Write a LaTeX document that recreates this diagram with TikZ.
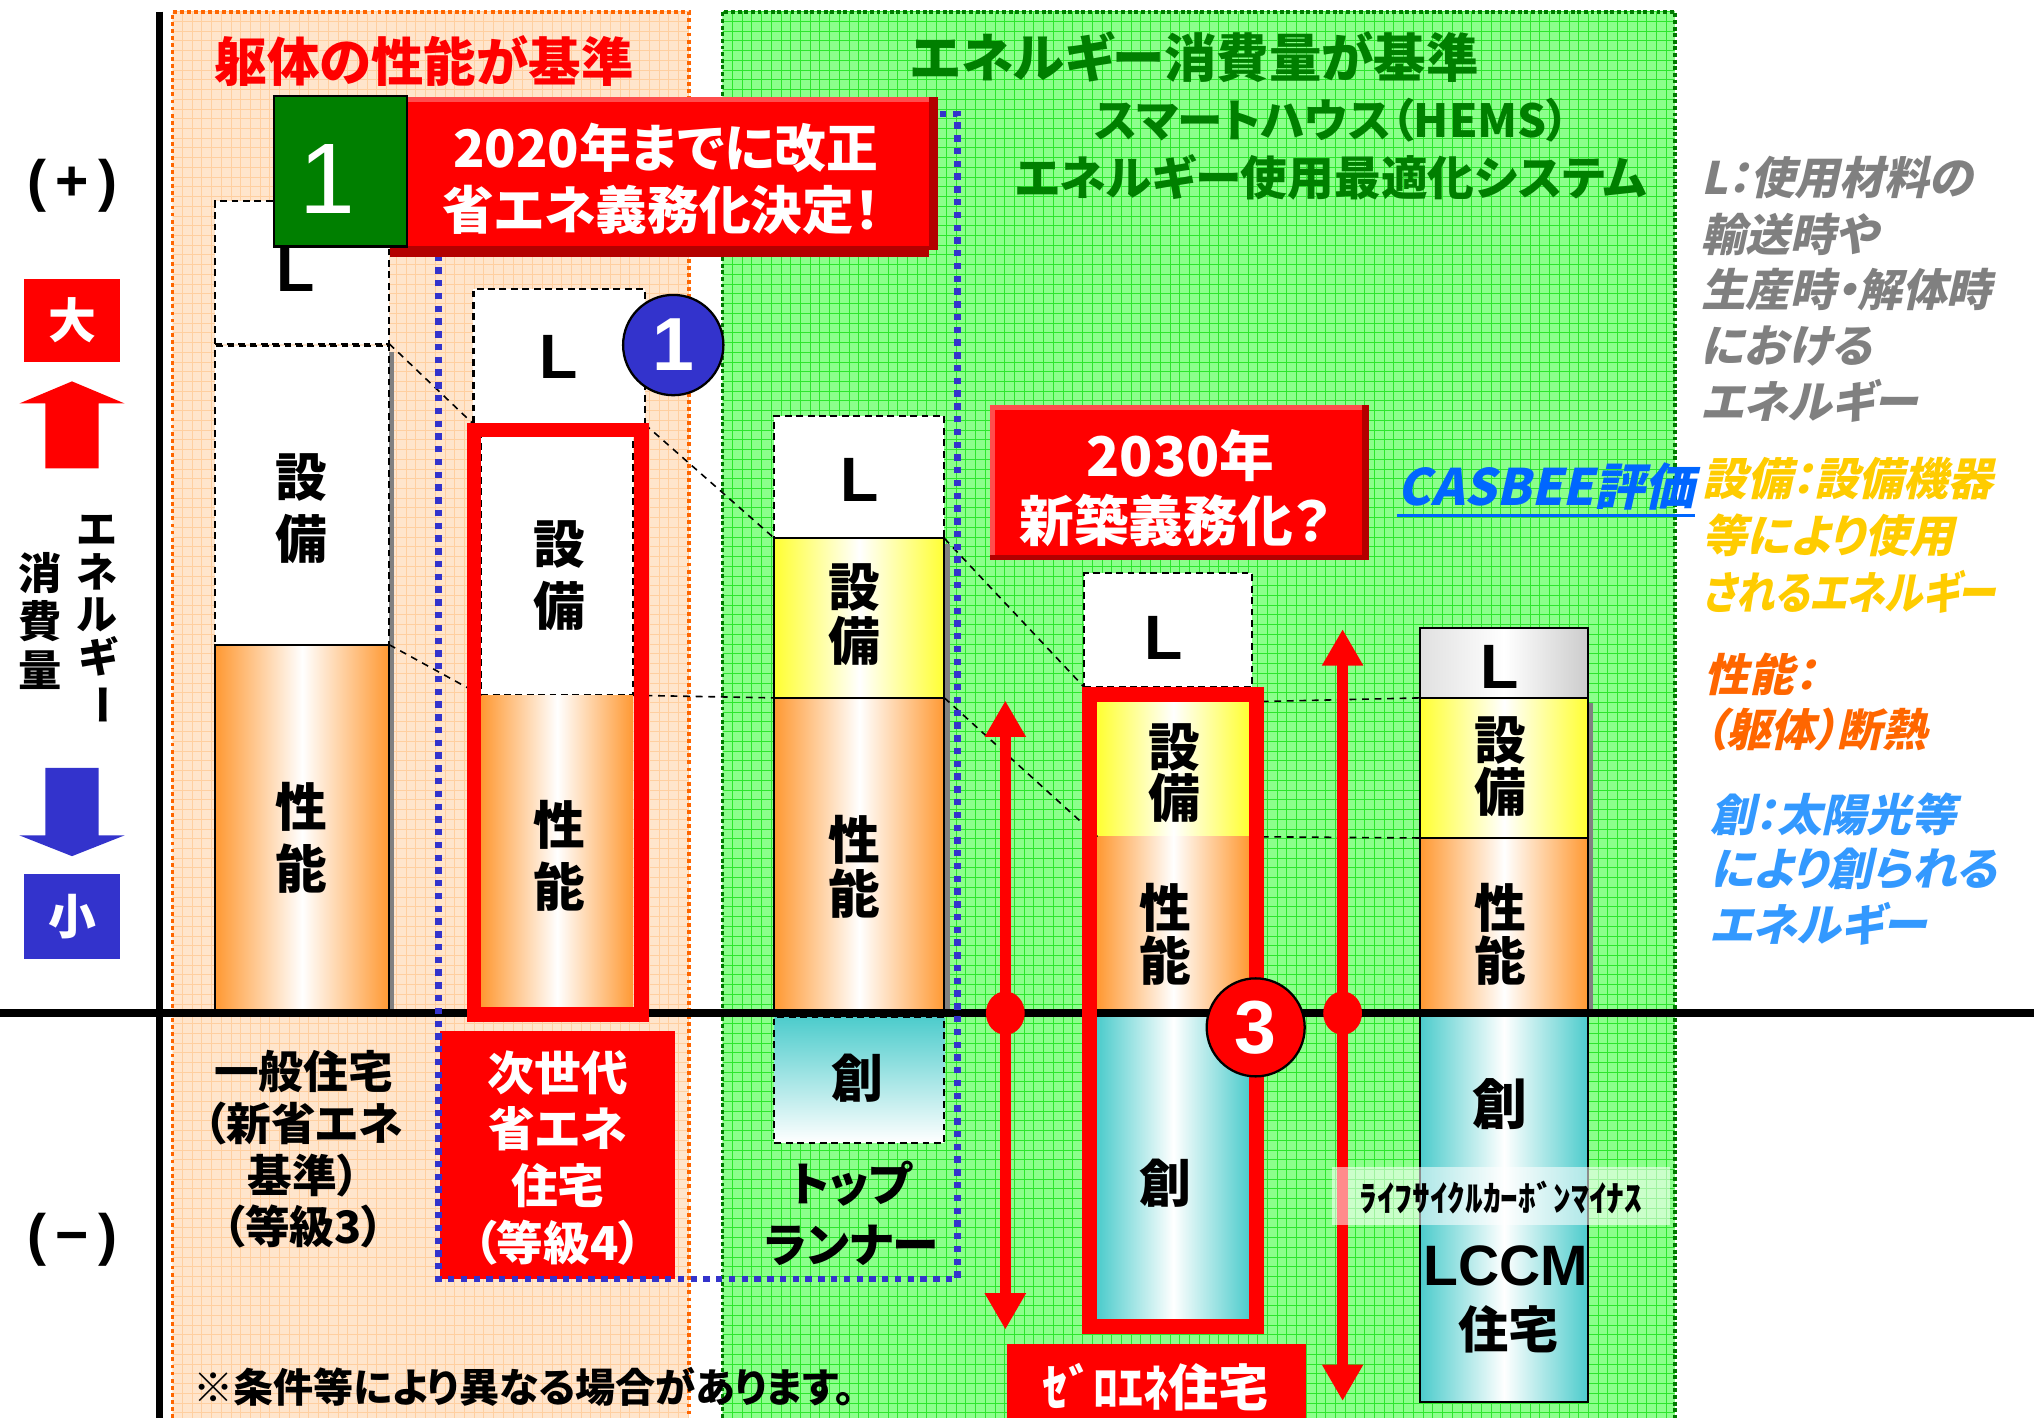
\documentclass[tikz,border=0pt]{standalone}
\usepackage{fontspec}
\usepackage{graphicx}
\usetikzlibrary{arrows.meta,fit,calc,shapes.geometric}
\setmainfont{Noto Sans CJK JP}[RawFeature=+palt]
\newfontfamily\jpsl{Noto Sans CJK JP}[RawFeature=+palt,FakeSlant=0.22]
\newfontfamily\lat{Liberation Sans}
\newcommand\fz[2]{\fontsize{#1pt}{#2pt}\selectfont}
\definecolor{OrBg}{HTML}{FFE5CC}
\definecolor{OrGrid}{HTML}{FFCFA0}
\definecolor{OrDot}{HTML}{FF6600}
\definecolor{GrBg}{HTML}{8CFF8C}
\definecolor{GrGrid}{HTML}{2EE62E}
\definecolor{GrDot}{HTML}{007A00}
\definecolor{DkGreen}{HTML}{007F00}
\definecolor{OrG}{HTML}{FF9933}
\definecolor{YeG}{HTML}{FFFF33}
\definecolor{TeG}{HTML}{4DCCCC}
\definecolor{BlueC}{HTML}{3333CC}
\definecolor{RedC}{HTML}{FF0000}
\definecolor{RedDk}{HTML}{B30000}
\definecolor{RedLt}{HTML}{FF4D4D}
\definecolor{ShGray}{HTML}{808080}
\definecolor{LegGray}{HTML}{808080}
\definecolor{LegGold}{HTML}{FFCC00}
\definecolor{LegOr}{HTML}{FF6600}
\definecolor{LegBlue}{HTML}{3399FF}
\definecolor{Casbee}{HTML}{0066FF}
\begin{document}
\begin{tikzpicture}[x=0.2mm,y=-0.2mm,
  area/.style={inner sep=0pt, outer sep=0pt},
  dbox/.style={area, draw=black, line width=0.9pt, dash pattern=on 3pt off 2pt, fill=white},
  sbox/.style={area, draw=black, line width=0.9pt},
  orangeg/.style={left color=OrG, right color=OrG, middle color=white},
  yellowg/.style={left color=YeG, right color=YeG, middle color=white},
  tealh/.style={left color=TeG, right color=TeG, middle color=white},
  tealv/.style={top color=TeG, bottom color=white},
  grayg/.style={left color=black!12, right color=black!20, middle color=white},
  lt/.style={inner sep=0pt, font=\lat\bfseries\fz{27.5}{27.5}},
  kan/.style={inner sep=0pt, align=center, font=\bfseries\fz{22.7}{#1}},
  kan/.default=27.2,
  wt/.style={inner sep=0pt, text=white, align=center},
  leg/.style={inner sep=0pt, anchor=west, font=\jpsl\bfseries\fz{19.6}{19.6}},
  conn/.style={black, line width=0.7pt, dash pattern=on 3pt off 2.5pt},
  frame/.style={area},
  rarrow/.style={RedC, line width=5.1pt, {Triangle[width=17pt,length=16pt]}-{Triangle[width=17pt,length=16pt]}},
  rdot/.style={ellipse, fill=RedC, minimum width=17pt, minimum height=19pt, inner sep=0pt},
  gridline/.style={line width=0.35pt}
]
\path[use as bounding box, fill=white] (0,0) rectangle (1568,1093);

% ---------- orange region ----------
\fill[OrBg] (133,9) rectangle (531,1093);
\begin{scope}
  \clip (133,9) rectangle (531,1093);
  \foreach \x in {133,140.5,...,531} \draw[OrGrid, gridline] (\x,9) -- (\x,1093);
  \foreach \y in {9,16.5,...,1093} \draw[OrGrid, gridline] (133,\y) -- (531,\y);
\end{scope}
\draw[OrDot, line width=1.7pt, dash pattern=on 1.7pt off 1.4pt] (133,1093) -- (133,9) -- (531,9) -- (531,1093);

% ---------- green region ----------
\fill[GrBg] (557,9) rectangle (1291,1093);
\begin{scope}
  \clip (557,9) rectangle (1291,1093);
  \foreach \x in {557,564.5,...,1291} \draw[GrGrid, gridline] (\x,9) -- (\x,1093);
  \foreach \y in {9,16.5,...,1093} \draw[GrGrid, gridline] (557,\y) -- (1291,\y);
\end{scope}
\draw[GrDot, line width=1.7pt, dash pattern=on 1.7pt off 1.2pt] (557,1093) -- (557,9) -- (1291,9) -- (1291,1093);

% ---------- left axis and labels ----------
\draw[black, line width=3.4pt] (123,9) -- (123,1093);
\node[inner sep=0pt, font=\lat\bfseries\fz{25}{25}] (plus) at (56,143) {(\,+\,)};
\node[inner sep=0pt, font=\lat\bfseries\fz{25}{25}] (minus) at (56,956) {(\,\textminus\,)};
\node[fit={(18.5,215) (92.5,279)}, area, fill=RedC] (big) {};
\node[wt, font=\bfseries\fz{21}{21}] (bigt) at (big.center) {大};
\fill[RedC] (35,361) -- (35,311) -- (15,311) -- (55.5,294) -- (96,311) -- (76,311) -- (76,361) -- cycle;
\fill[BlueC] (35,592) -- (76,592) -- (76,644) -- (96,644) -- (55.5,660) -- (15,644) -- (35,644) -- cycle;
\node[fit={(18.5,674) (92.5,739)}, area, fill=BlueC] (small) {};
\node[wt, font=\bfseries\fz{21}{21}] (smallt) at (small.center) {小};
\node[inner sep=0pt, align=center, font=\bfseries\fz{18}{18.7}] (vt1) at (75,478) {エ\\ネ\\ル\\ギ\\\rotatebox[origin=c]{-90}{ー}};
\node[inner sep=0pt, align=center, font=\bfseries\fz{19}{21.3}] (vt2) at (31,478.5) {消\\費\\量};

% ---------- titles ----------
\node[inner sep=0pt, text=RedC, font=\bfseries\fz{23}{23}] (t1) at (327,47) {躯体の性能が基準};
\node[inner sep=0pt, text=DkGreen, font=\bfseries\fz{23}{23}] (t2) at (921,44) {エネルギー消費量が基準};
\node[inner sep=0pt, text=DkGreen, font=\bfseries\fz{20}{20}] (t3) at (1027,93) {スマートハウス（HEMS）};
\node[inner sep=0pt, text=DkGreen, font=\bfseries\fz{20.5}{20.5}] (t4) at (1026,137) {エネルギー使用最適化システム};

% ---------- shadows ----------
\fill[ShGray] (170,271) rectangle (304,781);
\fill[ShGray] (601,419) rectangle (732,779);
\fill[ShGray] (1099,542) rectangle (1228,781);

% ---------- column 1 ----------
\node[fit={(166,155) (300,265)}, dbox] (c1L) {};
\node[fit={(166,267) (300,497)}, dbox] (c1S) {};
\node[fit={(166,497) (300,781)}, sbox, orangeg] (c1P) {};
\node[lt] (c1Lt) at (228,208) {L};
\node[kan] (c1St) at (232,392) {設\\備};
\node[kan] (c1Pt) at (232,646) {性\\能};

% ---------- column 2 ----------
\node[fit={(365,223) (497,327)}, dbox] (c2L) {};
\node[fit={(371,336) (488,536)}, dbox] (c2S) {};
\node[fit={(371,536) (488,781)}, area, orangeg] (c2P) {};
\node[lt] (c2Lt) at (431,275) {L};
\node[kan] (c2St) at (431,444) {設\\備};
\node[kan] (c2Pt) at (431,660) {性\\能};

% ---------- column 3 ----------
\node[fit={(597,321) (728,415)}, dbox] (c3L) {};
\node[fit={(597,415) (728,538)}, sbox, yellowg] (c3S) {};
\node[fit={(597,538) (728,779)}, sbox, orangeg] (c3P) {};
\node[fit={(597,784) (728,881)}, dbox, tealv] (c3C) {};
\node[lt] (c3Lt) at (663,370) {L};
\node[kan=23.8] (c3St) at (659,474) {設\\備};
\node[kan=23.8] (c3Pt) at (659,668) {性\\能};
\node[kan] (c3Ct) at (661,831) {創};

% ---------- column 4 ----------
\node[fit={(836,442) (965,530)}, dbox] (c4L) {};
\node[fit={(846,541) (963,645)}, area, yellowg] (c4S) {};
\node[fit={(846,645) (963,781)}, area, orangeg] (c4P) {};
\node[fit={(846,783) (963,1017)}, area, tealh] (c4C) {};
\node[lt] (c4Lt) at (897,492) {L};
\node[kan=22.7] (c4St) at (905,596) {設\\備};
\node[kan=23.2] (c4Pt) at (898,720) {性\\能};
\node[kan] (c4Ct) at (898,912) {創};

% ---------- column 5 ----------
\node[fit={(1095,484) (1224,538)}, sbox, grayg] (c5L) {};
\node[fit={(1095,538) (1224,646)}, sbox, yellowg] (c5S) {};
\node[fit={(1095,646) (1224,781)}, sbox, orangeg] (c5P) {};
\node[fit={(1095,783) (1224,1081)}, sbox, tealh] (c5C) {};
\node[lt] (c5Lt) at (1156,514) {L};
\node[kan=23.2] (c5St) at (1157,591) {設\\備};
\node[kan=23.2] (c5Pt) at (1157,720) {性\\能};
\node[inner sep=0pt, font=\bfseries\fz{24}{24}] (c5Ct) at (1156,851) {創};
\node[inner sep=0pt, font=\lat\bfseries\fz{25}{25}] (lccm) at (1161,976) {LCCM};
\node[inner sep=0pt, font=\bfseries\fz{22}{22}] (lccmh) at (1163,1025) {住宅};

% ---------- frame outlines (centre lines) ----------
\node[fit={(365.5,331.5) (494.5,782)}, frame] (c2F) {};
\node[fit={(840,535.5) (968.5,1022.5)}, frame] (c4F) {};

% ---------- dashed connectors ----------
\draw[conn] (c1L.south east) -- (c2L.south west);
\draw[conn] (c1S.south east) -- (c2S.south west);
\draw[conn] (c2L.south east) -- (c3L.south west);
\draw[conn] (c2S.south east) -- (c3S.south west);
\draw[conn] (c3L.south east) -- (c4L.south west);
\draw[conn] (c3S.south east) -- (c4S.south west);
\draw[conn] (c4S.north east) -- (c5S.north west);
\draw[conn] (c4S.south east) -- (c5S.south west);

% ---------- horizontal axis ----------
\draw[black, line width=3.7pt] (0,781) -- (1568,781);

% ---------- red frames ----------
\draw[RedC, line width=6.3pt] (c2F.north west) rectangle (c2F.south east);
\draw[RedC, line width=6.3pt] (c4F.north west) rectangle (c4F.south east);

% ---------- red double arrows ----------
\coordinate (a1t) at (775,540);
\coordinate (a1b) at (775,1025);
\coordinate (a2t) at (1035,485);
\coordinate (a2b) at (1035,1080);
\draw[rarrow] (a1t) -- (a1b);
\draw[rarrow] (a2t) -- (a2b);
\node[rdot] (a1d) at (775,781) {};
\node[rdot] (a2d) at (1035,781) {};

% ---------- numbered circles ----------
\node[circle, fill=BlueC, draw=black, line width=1pt, minimum size=44pt, inner sep=0pt, text=white, font=\lat\bfseries\fz{33}{33}] (b1) at (519,266) {1};
\node[circle, fill=RedC, draw=black, line width=1pt, minimum size=43pt, inner sep=0pt, text=white, font=\lat\bfseries\fz{33}{33}] (r3) at (968,792) {3};

% ---------- labels below axis ----------
\node[inner sep=0pt, align=center, font=\bfseries\fz{19.6}{22.7}] (c1lab) at (234,886) {一般住宅\\（新省エネ\\基準）\\（等級3）};
\node[fit={(339,795) (520,986)}, area, fill=RedC] (c2labbox) {};
\node[wt, font=\bfseries\fz{20.5}{24.9}] (c2lab) at (430,892.5) {次世代\\省エネ\\住宅\\（等級4）};
\node[inner sep=0pt, align=center, font=\bfseries\fz{20.5}{26.6}] (c3lab) at (656,935.5) {トップ\\ランナー};
\node[fit={(776,1036) (1007,1093)}, area, fill=RedC] (zebox) {};
\node[wt, font=\bfseries\fz{22}{22}] (zelab) at (891,1069) {ｾﾞﾛｴﾈ住宅};
\node[fit={(1027,900) (1287,944)}, area, fill=white, fill opacity=0.55] (lcbox) {};
\node[inner sep=0pt, font=\bfseries\fz{15.5}{15.5}] (lclab) at (1157,923) {ﾗｲﾌｻｲｸﾙｶｰﾎﾞﾝﾏｲﾅｽ};

% ---------- blue dotted frame ----------
\draw[BlueC, line width=2.8pt, dash pattern=on 2.8pt off 2.8pt] (338,88) rectangle (738,986);

% ---------- 2020 box and green square ----------
\node[fit={(301,75) (723,193)}, area, fill=RedC] (b2020) {};
\fill[RedDk] (301,190) rectangle (716,198);
\fill[RedDk] (716,75) rectangle (723,193);
\fill[RedLt] (314,75) rectangle (716,79);
\node[wt, font=\bfseries\fz{22.7}{22.7}] (t2020a) at (513,114) {2020年までに改正};
\node[wt, font=\bfseries\fz{22.7}{22.7}] (t2020b) at (510,162) {省エネ義務化決定！};
\node[fit={(211,74) (314,190)}, area, fill=DkGreen, draw=black, line width=1pt] (g1) {};
\node[wt, font=\lat\fz{44}{44}] (g1t) at (252,138) {1};

% ---------- 2030 box ----------
\node[fit={(763,312) (1055,432)}, area, fill=RedC] (b2030) {};
\fill[RedLt] (763,312) rectangle (1055,316);
\fill[RedLt] (763,312) rectangle (767,432);
\fill[RedDk] (1050,312) rectangle (1055,432);
\fill[RedDk] (763,428) rectangle (1055,432);
\node[wt, font=\bfseries\fz{24}{24}] (t2030a) at (910,351) {2030年};
\node[wt, font=\bfseries\fz{24}{24}] (t2030b) at (906,401) {新築義務化？};

% ---------- CASBEE ----------
\node[inner sep=0pt, text=Casbee, font=\jpsl\bfseries\fz{22}{22}] (casbee) at (1192,375) {CASBEE評価};
\draw[Casbee, line width=1.4pt] ([yshift=-2pt]casbee.south west) -- ([yshift=-2pt]casbee.south east);

% ---------- legend ----------
\node[leg, text=LegGray] (lg1) at (1311,137) {L：使用材料の};
\node[leg, text=LegGray] (lg2) at (1311,181) {輸送時や};
\node[leg, text=LegGray] (lg3) at (1311,223) {生産時・解体時};
\node[leg, text=LegGray] (lg4) at (1311,267) {における};
\node[leg, text=LegGray] (lg5) at (1311,309) {エネルギー};
\node[leg, text=LegGold] (lg6) at (1312,369) {設備：設備機器};
\node[leg, text=LegGold] (lg7) at (1312,413) {等により使用};
\node[leg, text=LegGold] (lg8) at (1312,456) {\scalebox{0.86}[1]{されるエネルギー}};
\node[leg, text=LegOr] (lg9) at (1314,520) {性能：};
\node[leg, text=LegOr] (lg10) at (1313,562) {（躯体）断熱};
\node[leg, text=LegBlue] (lg11) at (1318,628) {創：太陽光等};
\node[leg, text=LegBlue] (lg12) at (1318,670) {により創られる};
\node[leg, text=LegBlue] (lg13) at (1318,712) {エネルギー};

% ---------- footer ----------
\node[inner sep=0pt, font=\bfseries\fz{17.6}{17.6}] (foot) at (404,1069) {※条件等により異なる場合があります。};
\end{tikzpicture}
\end{document}
